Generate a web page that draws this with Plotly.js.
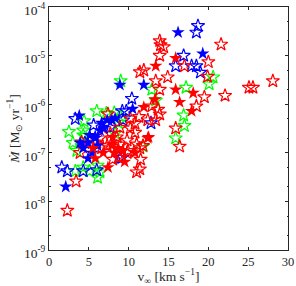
<!DOCTYPE html>
<html><head><meta charset="utf-8">
<script src="https://cdn.plot.ly/plotly-3.0.1.min.js"></script>
<style>html,body{margin:0;padding:0;background:#fff}#c{width:296px;height:286px}</style>
</head><body><div id="c"></div>
<script>
// Blue filled
const blueFilledV = [16.2,19.3,8.9,11.9,10.5,3.8,5.8,6.4,6.6,7.3,8.3,3.9,4.9,4.3,4.9,5.8,7.9,2.1,5.4,6.1,5.1,6.9];
const blueFilledM = [3.0e-5,1.1e-5,2.5e-6,2.5e-6,8.0e-7,5.8e-7,2.2e-7,2.9e-7,4.1e-7,4.7e-7,5.1e-7,1.6e-7,1.6e-7,1.25e-7,7.7e-8,2.0e-7,4.7e-7,2.0e-8,1.0e-7,1.4e-7,2.3e-7,3.2e-7];
// Blue open
const blueOpenV = [18.7,18.5,16.9,15.9,17.9,18.5,19.0,12.8,10.4,3.3,5.6,9.3,4.5,8.9,1.6,2.3,4.3,6.0,9.2,9.7,9.2,7.7];
const blueOpenM = [4.1e-5,3.0e-5,1.0e-5,6.1e-6,6.1e-6,6.1e-6,4.5e-6,4.1e-7,1.3e-6,5.0e-7,3.7e-7,4.7e-7,1.6e-7,7.7e-8,5.0e-8,4.2e-8,4.2e-8,4.4e-8,7.2e-7,7.2e-7,8.0e-8,3.3e-7];
// Green open
const greenOpenV = [9.0,20.6,20.1,17.2,12.9,13.4,16.9,17.0,15.9,6.0,4.4,2.5,4.3,4.3,8.2,8.7,9.2,8.3,11.8,3.0,3.5,3.3,5.1,6.1,4.3,6.1,6.4,7.2];
const greenOpenM = [3.0e-6,3.6e-6,2.6e-6,2.2e-6,2.0e-6,1.2e-6,5.9e-7,3.6e-7,2.0e-7,7.2e-7,4.5e-7,2.7e-7,2.9e-7,2.3e-7,6.7e-7,4.2e-7,5.5e-7,2.5e-7,1.35e-7,1.6e-7,1.1e-7,4.2e-8,4.2e-8,3.1e-8,5.0e-8,5.5e-8,4.0e-8,6.5e-7];
// Red filled
const redFilledV = [13.4,15.9,15.9,18.1,16.4,17.9,13.3,12.5,11.9,7.4,5.5,7.9,8.0,9.3,8.2,10.8,5.8,6.8,12.4,8.7,9.5,7.9];
const redFilledM = [6.1e-6,8.9e-6,2.0e-6,1.7e-6,1.1e-6,7.2e-7,1.25e-6,2.1e-7,8.7e-7,5.0e-8,1.25e-7,1.5e-7,2.1e-7,1.1e-7,1.0e-7,1.0e-7,7.7e-8,1.0e-7,2.0e-7,1.25e-7,6.5e-8,1.4e-7];
// Red open
const redOpenV = [13.9,14.0,14.4,13.9,21.6,20.0,17.0,19.9,14.9,13.4,28.1,25.1,25.6,13.9,22.1,19.5,12.9,18.5,13.9,13.4,15.9,16.4,11.4,11.9,11.3,7.4,8.9,10.2,10.8,10.8,6.0,6.4,6.6,7.3,7.7,8.9,9.8,9.9,11.0,11.8,8.0,8.7,9.8,11.5,11.4,11.0,11.4,3.4,2.3,4.1,3.9,12.4,10.2,8.5,13.7];
const redOpenM = [2.0e-5,1.65e-5,1.5e-5,1.0e-5,1.7e-5,7.4e-6,6.1e-6,3.7e-6,3.6e-6,3.0e-6,3.0e-6,2.2e-6,2.2e-6,2.0e-6,1.5e-6,1.4e-6,9.1e-7,9.1e-7,6.2e-7,4.7e-7,3.2e-7,1.35e-7,4.6e-6,5.0e-6,5.5e-7,6.3e-7,3.3e-7,3.2e-7,4.0e-7,2.6e-7,1.65e-7,2.0e-7,1.25e-7,1.4e-7,2.5e-7,1.5e-7,1.8e-7,1.1e-7,1.5e-7,1.4e-7,7.3e-8,8.0e-8,1.0e-7,7.3e-8,4.6e-8,4.0e-8,1.25e-7,2.6e-8,6.5e-9,1.65e-7,1.0e-7,4.7e-7,5.1e-7,2.1e-7,7.8e-7];

const xTicks = [0,5,10,15,20,25,30];
const yTicks = [1e-9,1e-8,1e-7,1e-6,1e-5,1e-4];
const yTickText = ['10<sup>-9</sup>','10<sup>-8</sup>','10<sup>-7</sup>','10<sup>-6</sup>','10<sup>-5</sup>','10<sup>-4</sup>'];

function tr(x,y,color,sym){
  return {x:x,y:y,type:'scatter',mode:'markers',hoverinfo:'none',cliponaxis:false,
    marker:{symbol:sym,size:10,color:color,line:{color:color,width:sym==='star'?0:1.2}}};
}
const data = [
  tr(greenOpenV,greenOpenM,'#00ff00','star-open'),
  tr(blueOpenV,blueOpenM,'#0000ff','star-open'),
  tr(redOpenV,redOpenM,'#ff0000','star-open'),
  tr(blueFilledV,blueFilledM,'#0000ff','star'),
  tr(redFilledV,redFilledM,'#ff0000','star')
];
const axisCol = '#262626';
const fam = 'Liberation Serif, serif';
const layout = {
  width:296,height:286,showlegend:false,
  paper_bgcolor:'#fff',plot_bgcolor:'#fff',
  margin:{l:49,r:8,t:7,b:36},
  font:{family:fam,size:12,color:axisCol},
  xaxis:{range:[0,30],tickvals:xTicks,ticks:'inside',ticklen:3,tickcolor:axisCol,ticklabeloverflow:'allow',
    showline:true,linecolor:axisCol,linewidth:1,mirror:'ticks',showgrid:false,zeroline:false,
    tickfont:{family:fam,size:12.5,color:axisCol},
    title:{text:'v<sub>∞</sub> [km s<sup>−1</sup>]',font:{family:fam,size:13.5,color:axisCol},standoff:4}},
  yaxis:{type:'log',range:[-9,-4],tickvals:yTicks,ticktext:yTickText,ticks:'inside',ticklen:3,tickcolor:axisCol,ticklabeloverflow:'allow',
    ticklabelshift:3,
    showline:true,linecolor:axisCol,linewidth:1,mirror:'ticks',showgrid:false,zeroline:false,
    minor:{ticks:'inside',ticklen:1.5,tickcolor:axisCol,showgrid:false},
    tickfont:{family:fam,size:13.5,color:axisCol},
    title:{text:'<i>Ṁ</i> [M<sub>⊙</sub> yr<sup>−1</sup>]',font:{family:fam,size:13.5,color:axisCol},standoff:0}}
};
Plotly.newPlot('c',data,layout,{staticPlot:true,displayModeBar:false});
</script></body></html>
